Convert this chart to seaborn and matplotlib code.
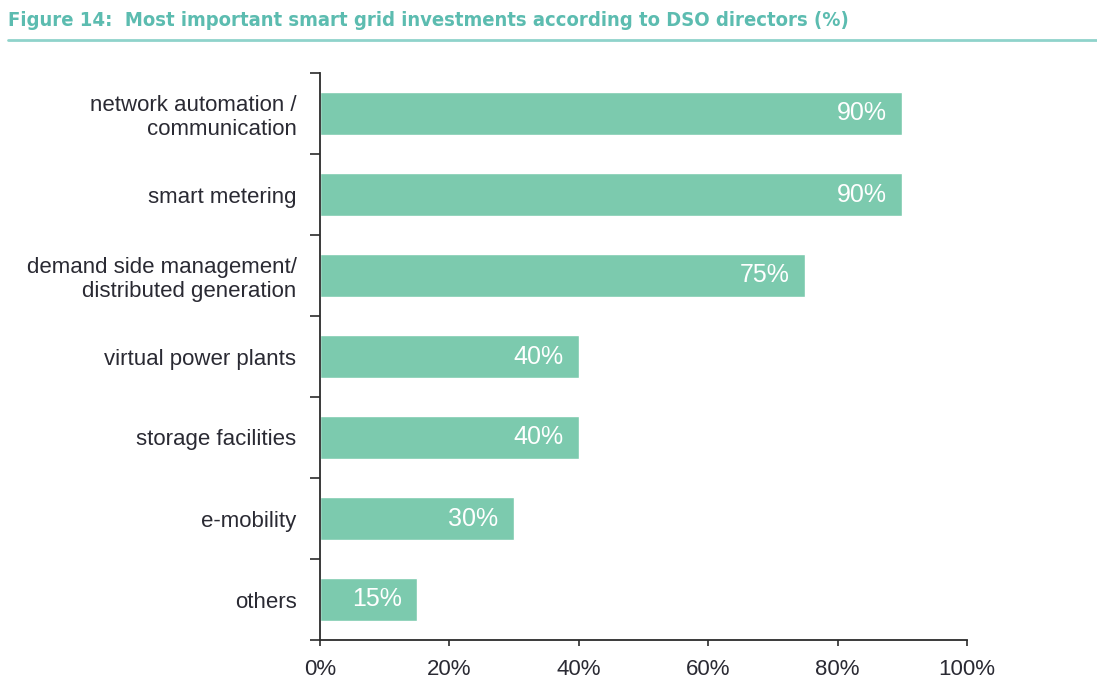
import matplotlib
matplotlib.use('Agg')
import matplotlib.pyplot as plt
import pandas as pd
import seaborn as sns

# Data
categories = ['network automation /\ncommunication', 'smart metering',
              'demand side management/\ndistributed generation', 'virtual power plants',
              'storage facilities', 'e-mobility', 'others']
values = [90, 90, 75, 40, 40, 30, 15]
x_ticks = [0, 20, 40, 60, 80, 100]
x_tick_labels = ['0%', '20%', '40%', '60%', '80%', '100%']

df = pd.DataFrame({'category': categories, 'value': values})

sns.set_style('white')
plt.rcParams['font.family'] = ['Liberation Sans', 'DejaVu Sans']

bar_color = '#7ccaae'
teal = '#5cbcb0'
axis_color = '#2b2b2b'
text_color = '#2a2a33'

fig = plt.figure(figsize=(10.97, 6.8), dpi=100)
ax = fig.add_axes([320 / 1097, 1 - 640 / 680, 647 / 1097, 567 / 680])

sns.barplot(data=df, x='value', y='category', orient='h', color=bar_color,
            width=0.52, saturation=1, ax=ax)

ax.set_xlim(0, 100)
ax.set_ylim(6.5, -0.5)
ax.set_xlabel('')
ax.set_ylabel('')

# axes styling
for side in ['top', 'right']:
    ax.spines[side].set_visible(False)
for side in ['left', 'bottom']:
    ax.spines[side].set_color(axis_color)
    ax.spines[side].set_linewidth(1.3)

ax.set_xticks(x_ticks)
ax.set_xticklabels(x_tick_labels)
ax.tick_params(axis='x', direction='out', length=4, width=1.2, color=axis_color,
               labelsize=16, labelcolor=text_color, pad=10, bottom=True)

ax.set_yticks(range(len(categories)))
ax.set_yticklabels(categories, linespacing=1.2)
ax.set_yticks([i - 0.5 for i in range(len(categories) + 1)], minor=True)
ax.tick_params(axis='y', which='major', length=0, labelsize=16,
               labelcolor=text_color, pad=17)
ax.tick_params(axis='y', which='minor', direction='out', length=7, width=1.2,
               color=axis_color, left=True)

# value labels inside bars
for i, v in enumerate(values):
    ax.text(v - 2.4, i, f'{v}%', ha='right', va='center', color='white',
            fontsize=18)

# title and rule
fig.text(8 / 1097, 1 - 21 / 680, 'Figure 14:  Most important smart grid investments according to DSO directors (%)',
         ha='left', va='center', color=teal, fontsize=14.5, fontweight='bold',
         family=['DejaVu Sans'], fontstretch='condensed')
fig.add_artist(plt.Line2D([8 / 1097, 1.0], [1 - 40 / 680, 1 - 40 / 680],
                          color='#8fd3cb', linewidth=2, transform=fig.transFigure))

fig.savefig('out.png', dpi=100)
